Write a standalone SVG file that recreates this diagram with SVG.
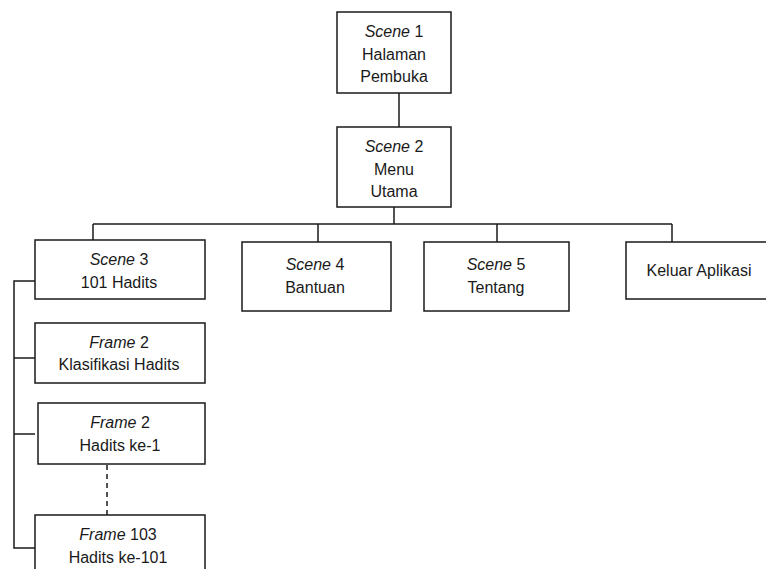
<svg xmlns="http://www.w3.org/2000/svg" width="766" height="569" viewBox="0 0 766 569">
<style>
.box{fill:#fff;stroke:#1a1a1a;stroke-width:1.5}
.ln{fill:none;stroke:#1a1a1a;stroke-width:1.5}
.dash{stroke-dasharray:5 4}
text{font-family:"Liberation Sans",Arial,sans-serif;font-size:16px;fill:#1a1a1a;text-anchor:middle}
.i{font-style:italic}
</style>
<rect width="766" height="569" fill="#fff"/>
<g id="connectors">
<line class="ln" x1="399" y1="93" x2="399" y2="127"/>
<line class="ln" x1="394" y1="207" x2="394" y2="224"/>
<line class="ln" x1="93" y1="224" x2="672" y2="224"/>
<line class="ln" x1="93" y1="224" x2="93" y2="240"/>
<line class="ln" x1="318" y1="224" x2="318" y2="242"/>
<line class="ln" x1="497" y1="224" x2="497" y2="242"/>
<line class="ln" x1="672" y1="224" x2="672" y2="242"/>
<polyline class="ln" points="38,281 14,281 14,548 35,548"/>
<line class="ln" x1="14" y1="358" x2="35" y2="358"/>
<line class="ln" x1="14" y1="434" x2="35" y2="434"/>
<line class="ln dash" x1="107" y1="465" x2="107" y2="515"/>
</g>
<g id="scene1">
<rect class="box" x="337" y="12" width="114" height="81"/>
<text x="394" y="37"><tspan class="i">Scene</tspan> 1</text>
<text x="394" y="60">Halaman</text>
<text x="394" y="82">Pembuka</text>
</g>
<g id="scene2">
<rect class="box" x="337" y="127" width="114" height="80"/>
<text x="394" y="152"><tspan class="i">Scene</tspan> 2</text>
<text x="394" y="175">Menu</text>
<text x="394" y="197">Utama</text>
</g>
<g id="scene3">
<rect class="box" x="35" y="240" width="170" height="59"/>
<text x="119" y="265"><tspan class="i">Scene</tspan> 3</text>
<text x="119" y="288">101 Hadits</text>
</g>
<g id="scene4">
<rect class="box" x="242" y="242" width="149" height="69"/>
<text x="315" y="270"><tspan class="i">Scene</tspan> 4</text>
<text x="315" y="293">Bantuan</text>
</g>
<g id="scene5">
<rect class="box" x="424" y="242" width="145" height="69"/>
<text x="496" y="270"><tspan class="i">Scene</tspan> 5</text>
<text x="496" y="293">Tentang</text>
</g>
<g id="keluar">
<rect class="box" x="626" y="242" width="150" height="57"/>
<text x="699" y="276">Keluar Aplikasi</text>
</g>
<g id="frame2a">
<rect class="box" x="35" y="323" width="170" height="60"/>
<text x="119" y="348"><tspan class="i">Frame</tspan> 2</text>
<text x="119" y="370">Klasifikasi Hadits</text>
</g>
<g id="frame2b">
<rect class="box" x="38" y="403" width="167" height="61"/>
<text x="120" y="428"><tspan class="i">Frame</tspan> 2</text>
<text x="120" y="451">Hadits ke-1</text>
</g>
<g id="frame103">
<rect class="box" x="35" y="515" width="170" height="70"/>
<text x="118" y="540"><tspan class="i">Frame</tspan> 103</text>
<text x="118" y="563">Hadits ke-101</text>
</g>
</svg>
